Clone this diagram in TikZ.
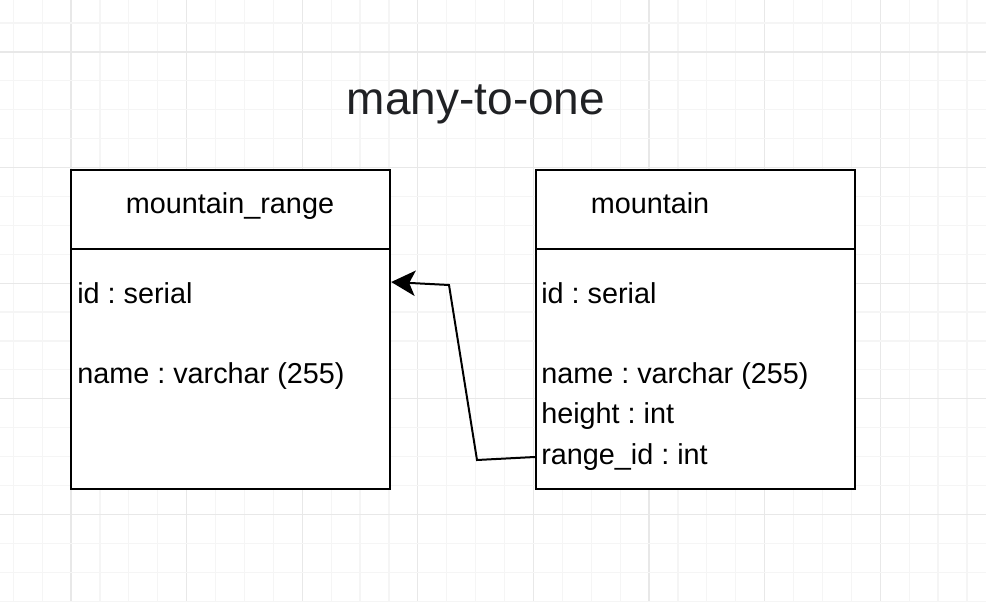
\documentclass[tikz,border=0pt]{standalone}
\usepackage{fontspec}
\setmainfont{Liberation Sans}
\usetikzlibrary{arrows.meta}
\definecolor{gridminor}{HTML}{F5F5F5}
\definecolor{gridmajor}{HTML}{E8E8E8}
\definecolor{titlecol}{HTML}{202124}
\frenchspacing
\begin{document}
\begin{tikzpicture}[x=0.75pt,y=-0.75pt,
  tablebox/.style={draw=black,line width=1.8pt,minimum width=239.25pt,minimum height=239.25pt,inner sep=0pt},
  headtext/.style={font=\fontsize{21.6pt}{26pt}\selectfont,anchor=base,inner sep=0pt},
  fieldtext/.style={font=\fontsize{21.6pt}{26pt}\selectfont,anchor=base west,inner sep=0pt},
  titletext/.style={font=\fontsize{34.5pt}{40pt}\selectfont,text=titlecol,anchor=base,inner sep=0pt},
  sepline/.style={line width=1.8pt},
  link/.style={line width=1.5pt,-{Stealth[length=18pt,width=19pt,inset=4.5pt]}}]
\useasboundingbox (0,0) rectangle (986,602);
\begin{scope}
\clip (0,0) rectangle (986,602);
\fill[white] (0,0) rectangle (986,602);
\foreach \k in {-2,...,32}{
  \pgfmathsetmacro\xx{71+\k*28.9}
  \pgfmathtruncatemacro\mm{mod(\k+40,4)}
  \ifnum\mm=0
    \draw[gridmajor,line width=1pt] (\xx,0) -- (\xx,602);
  \else
    \draw[gridminor,line width=0.9pt] (\xx,0) -- (\xx,602);
  \fi
}
\foreach \k in {-1,...,19}{
  \pgfmathsetmacro\yy{52+\k*28.9}
  \pgfmathtruncatemacro\mm{mod(\k+40,4)}
  \ifnum\mm=0
    \draw[gridmajor,line width=1pt] (0,\yy) -- (986,\yy);
  \else
    \draw[gridminor,line width=0.9pt] (0,\yy) -- (986,\yy);
  \fi
}
\end{scope}

\node[titletext] (title) at (476,115) {many-to-one};

\node[tablebox,fill=white] (mr) at (230.5,329.5) {};
\node[tablebox,fill=white] (m) at (695.5,329.5) {};
\coordinate (mrsep) at (71,249);
\coordinate (msep) at (536,249);
\draw[sepline] (mrsep) -- (mrsep -| mr.east);
\draw[sepline] (msep) -- (msep -| m.east);

\node[headtext] (mrhead) at (230,214) {mountain\_range};
\node[headtext] (mhead) at (650,214) {mountain};

\node[fieldtext] (mrid) at (77,303.5) {id : serial};
\node[fieldtext] (mrname) at (77,383.5) {name : varchar (255)};

\node[fieldtext] (mid) at (541,303.5) {id : serial};
\node[fieldtext] (mname) at (541,383.5) {name : varchar (255)};
\node[fieldtext] (mheight) at (541,423.5) {height : int};
\node[fieldtext] (mrange) at (541,464.5) {range\_id : int};

\coordinate (b1) at (477,460);
\coordinate (b2) at (449,285);
\draw[link] (m.west |- 0,457) -- (b1) -- (b2) -- (mr.east |- 0,282);
\end{tikzpicture}
\end{document}
